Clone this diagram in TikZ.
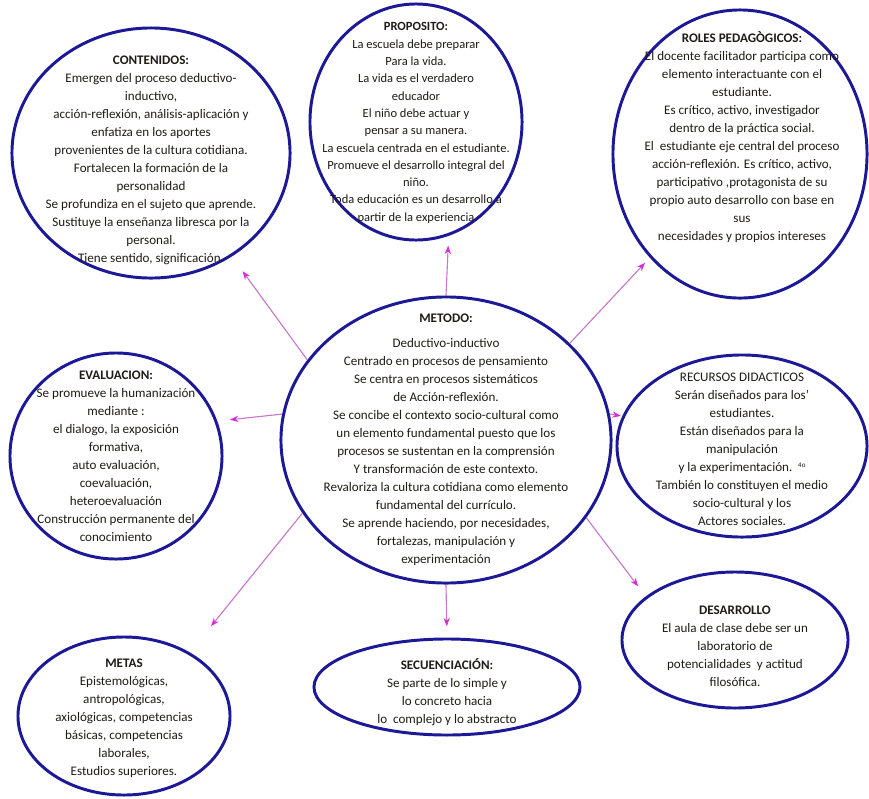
\documentclass[tikz,border=0pt]{standalone}
\usepackage{fontspec}
\setmainfont{Carlito}
\usetikzlibrary{shapes.geometric, arrows.meta}
\definecolor{RingBlue}{RGB}{28, 24, 150}
\definecolor{LinkPink}{RGB}{200, 120, 200}
\definecolor{TipPink}{RGB}{215, 45, 215}
\definecolor{TextGray}{RGB}{30, 28, 22}

\begin{document}
\begin{tikzpicture}[x=0.025cm, y=-0.025cm,
    bubble/.style={ellipse, draw=RingBlue, line width=2.1pt, inner sep=0pt},
    txt/.style={align=center, text=TextGray, font=\fontsize{9.3}{12.8}\selectfont},
    link/.style={draw=LinkPink, line width=0.8pt, -{Stealth[length=6pt, width=4.5pt, color=TipPink]}}]
    \useasboundingbox (0,0) rectangle (869,798);
    \fill[white] (0,0) rectangle (869,798);

    % Ellipses
    \node[bubble, minimum width=6.95cm, minimum height=6.25cm] (contenidos) at (151,153) {};
    \node[bubble, minimum width=5.3cm, minimum height=5.9cm] (proposito) at (416,122) {};
    \node[bubble, minimum width=6.35cm, minimum height=7.2cm] (roles) at (740,154) {};
    \node[bubble, minimum width=8.25cm, minimum height=7.15cm] (metodo) at (446,440) {};
    \node[bubble, minimum width=5.3cm, minimum height=5.15cm] (evaluacion) at (116,456) {};
    \node[bubble, minimum width=6.25cm, minimum height=4.55cm] (recursos) at (742,446) {};
    \node[bubble, minimum width=5.65cm, minimum height=3.4cm] (desarrollo) at (735,640) {};
    \node[bubble, minimum width=6.65cm, minimum height=2.4cm] (secuencia) at (447,687) {};
    \node[bubble, minimum width=5.3cm, minimum height=3.95cm] (metas) at (124,716) {};

    % Texts
    \node[txt] (contenidos-txt) at (151,160) {\textbf{CONTENIDOS:}\\
        Emergen del proceso deductivo-\\ inductivo,\\
        acción-reflexión, análisis-aplicación y\\ enfatiza en los aportes\\
        provenientes de la cultura cotidiana.\\ Fortalecen la formación de la\\
        personalidad\\ Se profundiza en el sujeto que aprende.\\
        Sustituye la enseñanza libresca por la\\ personal.\\
        Tiene sentido, significación.};
    \node[txt, font=\fontsize{8.9}{12.3}\selectfont] (proposito-txt) at (416,123) {\textbf{PROPOSITO:}\\
        La escuela debe preparar\\ Para la vida.\\ La vida es el verdadero\\
        educador\\ El niño debe actuar y\\ pensar a su manera.\\
        La escuela centrada en el estudiante.\\ Promueve el desarrollo integral del\\
        niño.\\ Toda educación es un desarrollo a\\ partir de la experiencia};
    \node[txt] (roles-txt) at (742,137) {\textbf{ROLES PEDAGÒGICOS:}\\
        El docente facilitador participa como\\ elemento interactuante con el\\
        estudiante.\\ Es crítico, activo, investigador\\ dentro de la práctica social.\\
        El\ \ estudiante eje central del proceso\\ acción-reflexión. Es crítico, activo,\\
        participativo ,protagonista de su\\ propio auto desarrollo con base en\\
        sus\\ necesidades y propios intereses};
    \node[txt] (metodo-txt) at (446,440) {\textbf{METODO:}\\[5pt]
        Deductivo-inductivo\\ Centrado en procesos de pensamiento\\
        Se centra en procesos sistemáticos\\ de Acción-reflexión.\\
        Se concibe el contexto socio-cultural como\\ un elemento fundamental puesto que los\\
        procesos se sustentan en la comprensión\\ Y transformación de este contexto.\\
        Revaloriza la cultura cotidiana como elemento\\ fundamental del currículo.\\
        Se aprende haciendo, por necesidades,\\ fortalezas, manipulación y\\
        experimentación};
    \node[txt] (evaluacion-txt) at (116,456) {\textbf{EVALUACION:}\\
        Se promueve la humanización\\ mediante :\\ el dialogo, la exposición\\
        formativa,\\ auto evaluación,\\ coevaluación,\\ heteroevaluación\\
        Construcción permanente del\\ conocimiento};
    \node[txt] (recursos-txt) at (742,449) {RECURSOS DIDACTICOS\\
        Serán diseñados para los’\\ estudiantes.\\ Están diseñados para la\\
        manipulación\\ y la experimentación.\ \ \raisebox{0.6ex}{\tiny 4o}\\
        También lo constituyen el medio\\ socio-cultural y los\\ Actores sociales.};
    \node[txt] (desarrollo-txt) at (735,646) {\textbf{DESARROLLO}\\
        El aula de clase debe ser un\\ laboratorio de\\
        potencialidades\ \ y actitud\\ filosófica.};
    \node[txt] (secuencia-txt) at (447,692) {\textbf{SECUENCIACIÓN:}\\
        Se parte de lo simple y\\ lo concreto hacia\\ lo\ \ complejo y lo abstracto};
    \node[txt] (metas-txt) at (124,718) {\textbf{METAS}\\
        Epistemológicas,\\ antropológicas,\\ axiológicas, competencias\\
        básicas, competencias\\ laborales,\\ Estudios superiores.};

    % Arrows from the center
    \draw[link, shorten >=13pt] (metodo.150) -- (contenidos.-52);
    \draw[link, shorten >=7pt] (metodo.90) -- (proposito.-74);
    \draw[link, shorten >=5pt] (metodo.38) -- (roles.-131);
    \draw[link, shorten >=9pt] (metodo.171) -- (evaluacion.19);
    \draw[link, shorten >=1pt] (metodo.9) -- (recursos.166);
    \draw[link, shorten >=9pt] (metodo.-29) -- (desarrollo.154);
    \draw[link, shorten >=8pt] (metodo.-90) -- (secuencia.90);
    \draw[link, shorten >=24pt] (metodo.207) -- (metas.44);
\end{tikzpicture}
\end{document}
